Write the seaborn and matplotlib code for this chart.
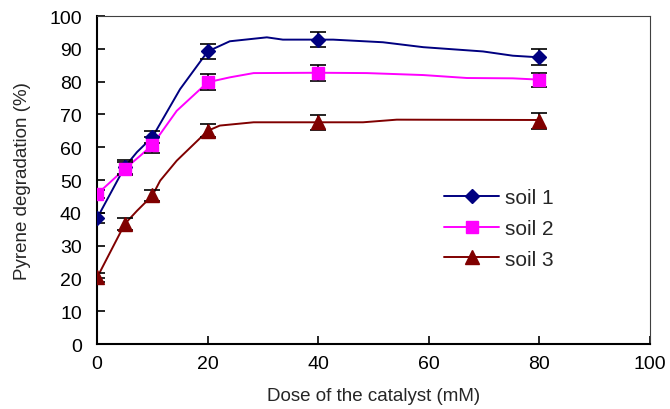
import matplotlib
matplotlib.use("Agg")
import matplotlib.pyplot as plt
from matplotlib.lines import Line2D
import seaborn as sns
import pandas as pd

# measured points
dose = [0, 5, 10, 20, 40, 80]
soil1 = [38.4, 54.0, 63.1, 89.2, 92.8, 87.4]
soil2 = [45.7, 53.4, 60.7, 79.8, 82.7, 80.6]
soil3 = [20.3, 36.6, 45.3, 65.0, 67.6, 68.1]
err1 = [1.5, 2.2, 1.8, 2.4, 2.2, 2.4]
err2 = [1.2, 2.0, 2.4, 2.4, 2.4, 2.1]
err3 = [1.5, 1.9, 1.7, 2.0, 2.3, 2.4]

# smoothed trend lines
line1_x = [0, 5, 7.2, 10, 15, 20, 24, 30.7, 33.6, 40, 42.7, 51.7, 59, 69.8, 75.2, 80]
line1_y = [38.4, 54.0, 58.5, 63.1, 77.7, 89.2, 92.3, 93.5, 92.8, 92.8, 92.8, 92.0, 90.5, 89.2, 87.9, 87.4]
line2_x = [0, 5, 7.8, 10, 14.4, 20, 24, 28.3, 40, 48.8, 59, 66.9, 75.2, 80]
line2_y = [45.7, 53.4, 57.4, 60.7, 71.1, 79.8, 81.3, 82.6, 82.7, 82.6, 82.0, 81.1, 81.0, 80.6]
line3_x = [0, 5, 7.2, 10, 11.4, 14.4, 20, 22.2, 28.3, 40, 48.1, 54.2, 80]
line3_y = [20.3, 36.6, 40.6, 45.3, 49.8, 55.9, 65.0, 66.6, 67.6, 67.6, 67.6, 68.4, 68.3]

labels = ["soil 1", "soil 2", "soil 3"]
colors = ["#000080", "#FF00FF", "#800000"]
markers = ["D", "s", "^"]
msizes = [7, 8.5, 9.5]

sns.set_style("ticks")
plt.rcParams["font.family"] = ["Liberation Sans", "DejaVu Sans"]

fig = plt.figure(figsize=(6.7, 4.1), dpi=100)
ax = fig.add_axes([0.145, 0.1585, 0.825, 0.80])

lines = [(line1_x, line1_y), (line2_x, line2_y), (line3_x, line3_y)]
pts = [(soil1, err1), (soil2, err2), (soil3, err3)]
handles = []
for (lx, ly), (py, pe), lab, c, m, ms in zip(lines, pts, labels, colors, markers, msizes):
    df = pd.DataFrame({"x": lx, "y": ly})
    sns.lineplot(data=df, x="x", y="y", ax=ax, color=c, linewidth=1.4, sort=False,
                 estimator=None, legend=False, zorder=2)
    ax.errorbar(dose, py, yerr=pe, fmt="none", ecolor="black", elinewidth=1.2,
                capsize=6, capthick=1.2, zorder=3)
    ax.plot(dose, py, linestyle="none", marker=m, markersize=ms, color=c, zorder=4)
    handles.append(Line2D([0], [0], color=c, linewidth=1.4, marker=m, markersize=ms, label=lab))

ax.set_xlim(0, 100)
ax.set_ylim(0, 100)
ax.set_xticks(range(0, 101, 20))
ax.set_yticks(range(0, 101, 10))
ax.tick_params(direction="in", length=6, width=1.2, labelsize=14, colors="black")
ax.tick_params(axis="x", pad=8)
ax.tick_params(axis="y", pad=11)
for s in ["left", "bottom"]:
    ax.spines[s].set_color("black")
    ax.spines[s].set_linewidth(1.5)
for s in ["top", "right"]:
    ax.spines[s].set_color("#404040")
    ax.spines[s].set_linewidth(0.8)
ax.set_xlabel("Dose of the catalyst (mM)", fontsize=13.5, labelpad=11)
ax.set_ylabel("Pyrene degradation (%)", fontsize=13.5, labelpad=13)

ax.legend(handles=handles, loc="center left", bbox_to_anchor=(0.594, 0.352), frameon=False,
          fontsize=15, handlelength=2.65, labelspacing=0.56, handletextpad=0.25)

fig.savefig("out.png", dpi=100)
